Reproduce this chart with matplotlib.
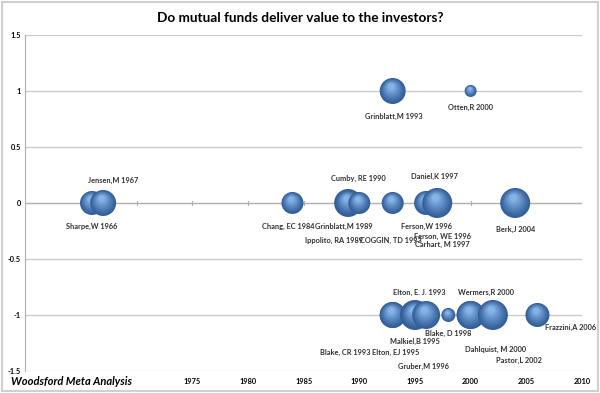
import matplotlib.pyplot as plt
from matplotlib.transforms import offset_copy
import numpy as np

plt.rcParams['font.family'] = ['Lato', 'DejaVu Sans']

# study, publication year, result (1 = beats market, 0 = no value, -1 = destroys value), bubble weight
studies = ["Sharpe,W 1966", "Jensen,M 1967", "Chang, EC 1984", "Grinblatt,M 1989",
           "Ippolito, RA 1989", "Cumby, RE 1990", "COGGIN, TD 1993", "Ferson,W 1996",
           "Ferson, WE 1996", "Carhart, M 1997", "Daniel,K 1997", "Berk,J 2004",
           "Grinblatt,M 1993", "Otten,R 2000",
           "Blake, CR 1993", "Elton, E. J. 1993", "Malkiel,B 1995", "Elton, EJ 1995",
           "Gruber,M 1996", "Blake, D 1998", "Wermers,R 2000", "Dahlquist, M 2000",
           "Pastor,L 2002", "Frazzini,A 2006"]
years = [1966, 1967, 1984, 1989, 1989, 1990, 1993, 1996, 1996, 1997, 1997, 2004,
         1993, 2000,
         1993, 1993, 1995, 1995, 1996, 1998, 2000, 2000, 2002, 2006]
result = [0, 0, 0, 0, 0, 0, 0, 0, 0, 0, 0, 0,
          1, 1,
          -1, -1, -1, -1, -1, -1, -1, -1, -1, -1]
weight = [12, 13, 11, 14, 13, 11, 11, 11, 12, 14, 15, 15,
          13, 6,
          13, 13, 15, 14, 14, 7, 14, 14, 15, 12]

# label offsets in points (style only)
label_off = [(0, -17), (7, 16), (-3, -17), (-3, -17), (-10, -27), (-1, 18), (-1, -27),
             (0, -17), (12, -24), (4, -30), (-2, 19), (0, -19),
             (1, -18), (0, -12),
             (-34, -27), (19, 16), (0, -19), (-14, -27), (-2, -37), (0, -13),
             (11, 16), (18, -25), (19, -33), (24, -9)]

xticks = [1975, 1980, 1985, 1990, 1995, 2000, 2005, 2010]
yticks = [-1.5, -1, -0.5, 0, 0.5, 1, 1.5]

fig = plt.figure(figsize=(6, 3.93), dpi=100)
ax = fig.add_axes([0.042, 0.056, 0.928, 0.855])
ax.set_xlim(1960, 2010)
ax.set_ylim(-1.5, 1.5)

for yv in yticks:
    ax.axhline(yv, color='#c8c8c8', lw=0.9, zorder=0)
ax.axhline(0, color='#b0b0b0', lw=0.9, zorder=1)
for xv in range(1965, 2011, 5):
    ax.plot([xv, xv], [-0.02, 0.02], color='#b0b0b0', lw=0.8, zorder=1)

# pseudo 3D bubbles: dark base then lighter, smaller layers shifted upward
layers = 9
dark = np.array([0.20, 0.37, 0.60])
light = np.array([0.52, 0.70, 0.90])
order = np.argsort(weight)[::-1]
for i in order:
    r = weight[i] * 0.72
    for k in range(layers):
        f = 1 - k / layers * 0.85
        c = dark + (light - dark) * (k / (layers - 1)) ** 1.1
        tr = offset_copy(ax.transData, fig=fig, x=-r * (1 - f) * 0.15,
                         y=r * (1 - f) * 0.45, units='points')
        ax.scatter([years[i]], [result[i]], s=(2 * r * f) ** 2, color=c,
                   edgecolors='none', transform=tr, zorder=3 + i * 0.01)

for name, x, y, off in zip(studies, years, result, label_off):
    ax.annotate(name, (x, y), xytext=off, textcoords='offset points',
                ha='center', va='center', fontsize=5.3, fontweight='bold',
                color='#303030', zorder=10)

for s in ['top', 'right', 'bottom']:
    ax.spines[s].set_visible(False)
ax.spines['left'].set_color('#b0b0b0')
ax.set_yticks(yticks)
ax.set_yticklabels(['-1.5', '-1', '-0.5', '0', '0.5', '1', '1.5'])
ax.set_xticks(xticks)
ax.tick_params(axis='both', length=0, labelsize=5.3, pad=5)
ax.tick_params(axis='y', pad=3)
for t in ax.get_xticklabels() + ax.get_yticklabels():
    t.set_fontweight('bold')

fig.text(0.5, 0.955, "Do mutual funds deliver value to the investors?",
         ha='center', va='center', fontsize=9.8, fontweight='bold')
fig.text(0.018, 0.03, "Woodsford Meta Analysis", ha='left', va='center',
         fontsize=8, fontweight='bold', style='italic')

fig.patches.append(plt.Rectangle((0.003, 0.005), 0.994, 0.99, transform=fig.transFigure,
                                 fill=False, ec='#d0d0d0', lw=1.5))

plt.savefig('out.png', dpi=100)
